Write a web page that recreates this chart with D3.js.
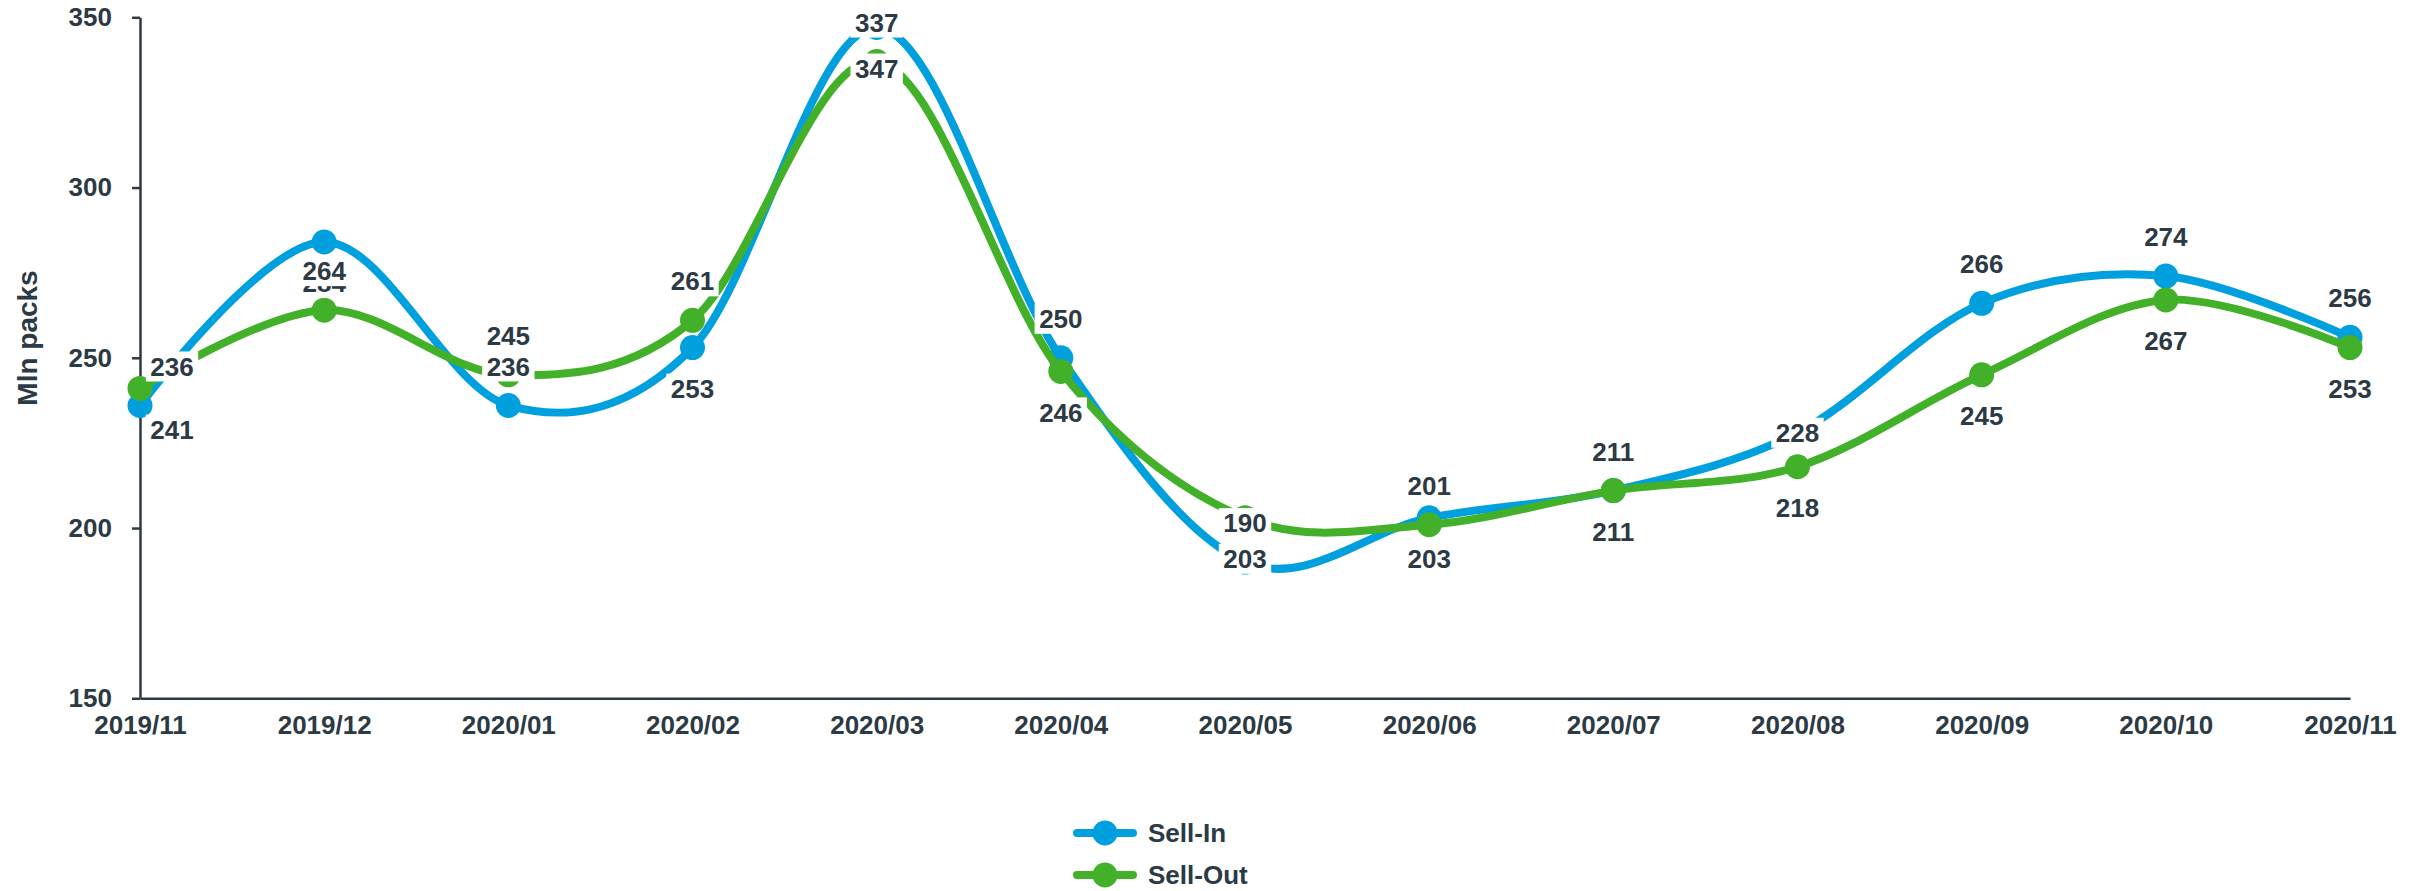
<!DOCTYPE html>
<html>
<head>
<meta charset="utf-8">
<script src="https://cdn.jsdelivr.net/npm/d3@7"></script>
<style>
  html, body { margin: 0; padding: 0; background: #ffffff; }
  svg { display: block; }
  text { font-family: "Liberation Sans", Arial, Helvetica, sans-serif; font-weight: bold; fill: #2c3a45; }
</style>
</head>
<body>
<svg id="chart" width="2428" height="891"></svg>
<script>
// ---- data ----
const months = ["2019/11", "2019/12", "2020/01", "2020/02", "2020/03", "2020/04", "2020/05",
                "2020/06", "2020/07", "2020/08", "2020/09", "2020/10", "2020/11"];
const sellIn  = [236, 284, 236, 253, 347, 250, 190, 203, 211, 228, 266, 274, 256];
const sellOut = [241, 264, 245, 261, 337, 246, 203, 201, 211, 218, 245, 267, 253];
const yTicks = [150, 200, 250, 300, 350];
const seriesNames = ["Sell-In", "Sell-Out"];
// data-label side per point (like a chart library's label.position option)
const sellInLabelSide  = ["top", "bottom", "top", "bottom", "bottom", "top", "top", "bottom", "top", "center", "top", "top", "top"];
const sellOutLabelSide = ["bottom", "top", "top", "top", "top", "bottom", "bottom", "top", "bottom", "bottom", "bottom", "bottom", "bottom"];
const yAxisTitle = "Mln packs";

// ---- layout / style ----
const W = 2428, H = 891;
const colors = ["#00a0df", "#43b02a"];
const textColor = "#2c3a45";
const fs = 26;

const svg = d3.select("#chart");

const x = d3.scalePoint().domain(months).range([140, 2350]);
const y = d3.scaleLinear().domain([150, 350]).range([698.3, 17.3]);

// y axis
const yAxis = svg.append("g").attr("transform", "translate(140,0)")
  .call(d3.axisLeft(y).tickValues(yTicks).tickSize(8).tickSizeOuter(0).tickPadding(20));
yAxis.selectAll("path.domain").attr("stroke", textColor).attr("stroke-width", 2.5);
yAxis.selectAll(".tick line").attr("stroke", textColor).attr("stroke-width", 2.5);
yAxis.selectAll(".tick text").attr("font-size", fs).attr("fill", textColor)
  .style("font-family", "Liberation Sans, Arial, sans-serif").style("font-weight", "bold");

// x axis
const xAxis = svg.append("g").attr("transform", "translate(0,698.3)")
  .call(d3.axisBottom(x).tickSize(0).tickSizeOuter(0).tickPadding(17));
xAxis.selectAll("path.domain").attr("stroke", textColor).attr("stroke-width", 2.5);
xAxis.selectAll(".tick text").attr("font-size", fs).attr("fill", textColor)
  .style("font-family", "Liberation Sans, Arial, sans-serif").style("font-weight", "bold");

// y axis title
svg.append("text")
  .attr("transform", "translate(37,338) rotate(-90)")
  .attr("text-anchor", "middle")
  .attr("font-size", 28)
  .text(yAxisTitle);

// lines + points
const allSeries = [sellIn, sellOut];
const sides = [sellInLabelSide, sellOutLabelSide];
const line = d3.line()
  .x((d, i) => x(months[i]))
  .y(d => y(d))
  .curve(d3.curveCatmullRom.alpha(0));

allSeries.forEach((vals, s) => {
  const g = svg.append("g");
  g.append("path")
    .attr("d", line(vals))
    .attr("fill", "none")
    .attr("stroke", colors[s])
    .attr("stroke-width", 8)
    .attr("stroke-linejoin", "round")
    .attr("stroke-linecap", "round");
  g.selectAll("circle").data(vals).join("circle")
    .attr("cx", (d, i) => x(months[i]))
    .attr("cy", d => y(d))
    .attr("r", 12.5)
    .attr("fill", colors[s]);
});

// data labels with white background
allSeries.forEach((vals, s) => {
  const g = svg.append("g");
  vals.forEach((v, i) => {
    const side = sides[s][i];
    const cx = x(months[i]) + (i === 0 ? 32 : 0);
    const cy = y(v) + (side === "top" ? -39 : side === "bottom" ? 41 : 0);
    const lg = g.append("g");
    const rect = lg.append("rect").attr("fill", "#ffffff");
    const t = lg.append("text")
      .attr("x", cx)
      .attr("y", cy + 0.35 * fs)
      .attr("text-anchor", "middle")
      .attr("font-size", fs)
      .text(v);
    const w = t.node().getComputedTextLength();
    rect.attr("x", cx - w / 2 - 4.5).attr("y", cy - 15).attr("width", w + 9).attr("height", 30);
  });
});

// legend
const legend = svg.append("g");
seriesNames.forEach((name, s) => {
  const ly = 833 + s * 42;
  legend.append("line")
    .attr("x1", 1077).attr("x2", 1133).attr("y1", ly).attr("y2", ly)
    .attr("stroke", colors[s]).attr("stroke-width", 8).attr("stroke-linecap", "round");
  legend.append("circle").attr("cx", 1105).attr("cy", ly).attr("r", 12.5).attr("fill", colors[s]);
  legend.append("text").attr("x", 1148).attr("y", ly + 0.35 * fs).attr("font-size", fs).text(name);
});
</script>
</body>
</html>
